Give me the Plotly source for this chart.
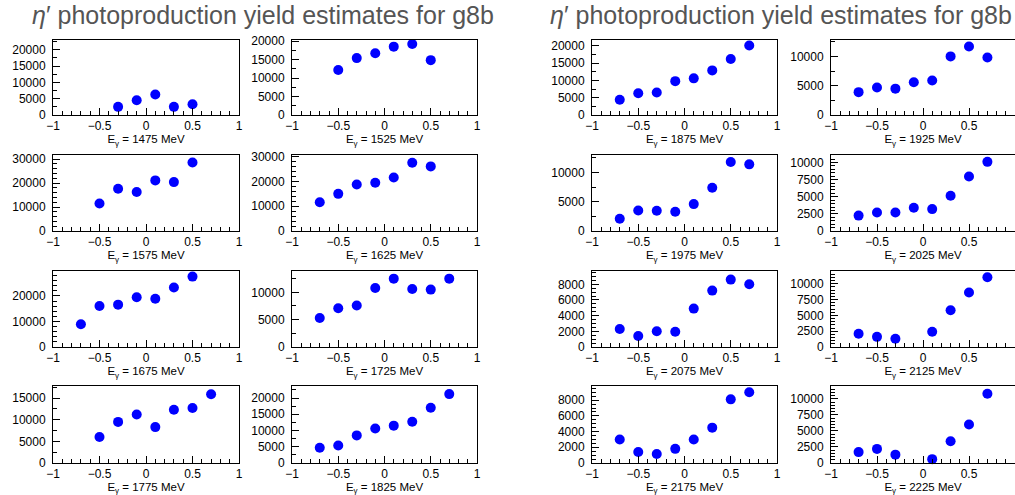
import plotly.graph_objects as go

# cos(theta) bins
angles = [-0.7, -0.5, -0.3, -0.1, 0.1, 0.3, 0.5, 0.7]
energies = [1475, 1525, 1575, 1625, 1675, 1725, 1775, 1825,
            1875, 1925, 1975, 2025, 2075, 2125, 2175, 2225]

y_1475 = [None, None, 2500, 4500, 6300, 2500, 3300, None]
y_1525 = [None, 12200, 15400, 16700, 18500, 19200, 14850, None]
y_1575 = [None, 11500, 17600, 16300, 21100, 20400, 28600, None]
y_1625 = [11600, 15000, 18800, 19500, 21600, 27600, 26100, None]
y_1675 = [8900, 16100, 16600, 19500, 18900, 23300, 27600, None]
y_1725 = [5300, 7100, 7600, 10800, 12500, 10600, 10500, 12500]
y_1775 = [None, 6000, 9500, 11200, 8300, 12300, 12700, 15900]
y_1825 = [4700, 5400, 8500, 10600, 11500, 12700, 17000, 21200]
y_1875 = [4400, 6300, 6500, 9800, 10600, 12900, 16200, 20100]
y_1925 = [3900, 4700, 4500, 5600, 5900, 10000, 11700, 9800]
y_1975 = [2100, 3500, 3450, 3300, 4600, 7400, 11800, 11400]
y_2025 = [2250, 2700, 2700, 3400, 3200, 5150, 7950, 10100]
y_2075 = [2300, 1400, 2000, 1950, 4900, 7200, 8600, 8000]
y_2125 = [2100, 1600, 1300, None, 2400, 5800, 8600, 11000]
y_2175 = [3000, 1400, 1150, 1800, 3000, 4500, 8100, 9000]
y_2225 = [1700, 2200, 1300, None, 600, 3400, 6000, 10800]

yields = [y_1475, y_1525, y_1575, y_1625, y_1675, y_1725, y_1775, y_1825,
          y_1875, y_1925, y_1975, y_2025, y_2075, y_2125, y_2175, y_2225]

y_max = [23000, 20300, 31700, 30700, 29800, 13900, 17800, 23700,
         21700, 12800, 13000, 11100, 9700, 12000, 9800, 12000]
y_dtick = [5000, 5000, 10000, 10000, 10000, 5000, 5000, 5000,
           5000, 5000, 5000, 2500, 2000, 2500, 2000, 2500]
y_minor = [2500, 2500, 2000, 2000, 2000, 2500, 2500, 2500,
           2500, 2500, 2500, 500, 500, 500, 500, 500]

title_text = "<i>η</i>′ photoproduction yield estimates for g8b"

W, H = 1015, 495
col_px = [(53, 239), (292, 477), (592, 777), (831, 1015)]
row_px = [(40, 115), (155, 231), (271, 347), (386, 463)]

fig = go.Figure()
font_tick = dict(family="Liberation Sans, Arial, sans-serif", size=12, color="black")

for k, (e, ys) in enumerate(zip(energies, yields)):
    group, j = divmod(k, 8)
    row = j // 2
    col = group * 2 + j % 2
    ax = "" if k == 0 else str(k + 1)
    fig.add_trace(go.Scatter(
        x=angles, y=ys, mode="markers",
        marker=dict(color="#0000ff", size=10, line=dict(width=0)),
        xaxis="x" + ax, yaxis="y" + ax, showlegend=False, cliponaxis=False))
    x0, x1 = col_px[col]
    y0, y1 = row_px[row]
    xa = dict(domain=[x0 / W, min(x1 / W, 1.0)], anchor="y" + ax,
              automargin=False,
              range=[-1, 1], tickmode="linear", dtick=0.5, tick0=-1,
              ticks="inside", ticklen=7, tickangle=0,
              tickcolor="black", showline=True, linecolor="black", linewidth=1,
              mirror=True, showgrid=False, zeroline=False,
              tickfont=font_tick,
              minor=dict(ticks="inside", ticklen=4, dtick=0.1, tick0=-1,
                         tickcolor="black", showgrid=False),
              title=dict(text="E<sub>γ</sub> = %d MeV" % e, standoff=1,
                         font=dict(family="Liberation Sans, Arial, sans-serif",
                                   size=11.5, color="black")))
    ya = dict(domain=[1 - y1 / H, 1 - y0 / H], anchor="x" + ax,
              automargin=False,
              range=[0, y_max[k]], tickmode="linear", dtick=y_dtick[k], tick0=0,
              ticks="inside", tickformat="d",
              ticklen=7, tickcolor="black", showline=True, linecolor="black",
              linewidth=1, mirror=True, showgrid=False, zeroline=False,
              tickfont=font_tick, ticklabelstandoff=4,
              minor=dict(ticks="inside", ticklen=4, dtick=y_minor[k], tick0=0,
                         tickcolor="black", showgrid=False))
    fig.layout["xaxis" + ax] = xa
    fig.layout["yaxis" + ax] = ya

for cx in (263, 781):
    fig.add_annotation(text=title_text, x=cx / W, y=1 - 15 / H,
                       xref="paper", yref="paper", showarrow=False,
                       xanchor="center", yanchor="middle",
                       font=dict(family="Liberation Sans, Arial, sans-serif",
                                 size=25, color="#555555"))

fig.update_layout(width=W, height=H, margin=dict(l=0, r=0, t=0, b=0),
                  plot_bgcolor="white", paper_bgcolor="white")

fig.write_html("out.html")
